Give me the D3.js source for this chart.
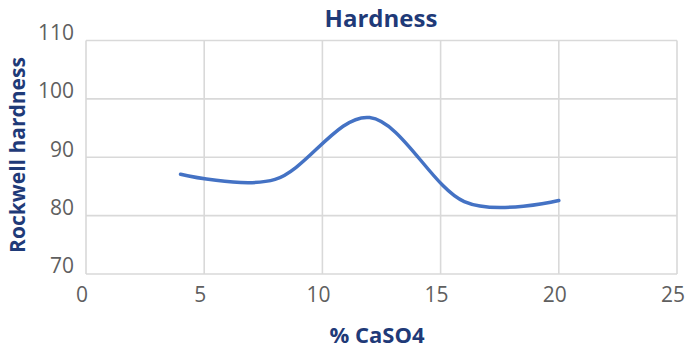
<!DOCTYPE html>
<html><head><meta charset="utf-8">
<script src="https://cdn.jsdelivr.net/npm/d3@7/dist/d3.min.js"></script>
<style>body{margin:0;background:#fff}svg{display:block}</style>
</head><body>
<svg id="c" width="686" height="350"></svg>
<script>
const xValues = [4, 8, 12, 16, 20];
const hardness = [87.1, 86.2, 96.8, 82.4, 82.6];
const xTicks = [0, 5, 10, 15, 20, 25];
const yTicks = [70, 80, 90, 100, 110];
const title = "Hardness";
const xTitle = "% CaSO4";
const yTitle = "Rockwell hardness";

const svg = d3.select("#c");
const x = d3.scaleLinear().domain([0, 25]).range([86, 677]);
const y = d3.scaleLinear().domain([70, 110]).range([274, 40.5]);
const grid = "#d9d9d9";
const navy = "#1f3a78";

// gridlines
svg.append("g").selectAll("line").data(yTicks).join("line")
  .attr("x1", x(0)).attr("x2", x(25))
  .attr("y1", d => y(d)).attr("y2", d => y(d))
  .attr("stroke", grid).attr("stroke-width", 1.6);
svg.append("g").selectAll("line").data(xTicks).join("line")
  .attr("y1", y(70)).attr("y2", y(110))
  .attr("x1", d => x(d)).attr("x2", d => x(d))
  .attr("stroke", grid).attr("stroke-width", 1.6);

// axes labels via d3 axes
const yAxis = svg.append("g").attr("transform", `translate(${x(0)},0)`)
  .call(d3.axisLeft(y).tickValues(yTicks).tickSize(0).tickPadding(12));
const xAxis = svg.append("g").attr("transform", `translate(0,${y(70)})`)
  .call(d3.axisBottom(x).tickValues(xTicks).tickSize(0).tickPadding(13));
[yAxis, xAxis].forEach(a => {
  a.select(".domain").remove();
  a.selectAll("text").attr("font-family", "'Open Sans', sans-serif")
    .attr("font-size", 21).attr("fill", "#5f5f5f");
});
yAxis.selectAll("text").attr("dy", "-0.05em");
xAxis.selectAll("text").attr("dx", -4.5);

// line
const line = d3.line().x((d, i) => x(xValues[i])).y(d => y(d))
  .curve(d3.curveCatmullRom.alpha(0));
svg.append("path").datum(hardness).attr("d", line)
  .attr("fill", "none").attr("stroke", "#4472c4").attr("stroke-width", 3.5)
  .attr("stroke-linecap", "round");

// titles
svg.append("text").attr("x", 381).attr("y", 27).attr("text-anchor", "middle")
  .attr("font-family", "'Open Sans', sans-serif").attr("font-weight", "bold")
  .attr("font-size", 24).attr("fill", navy).text(title);
svg.append("text").attr("x", 377).attr("y", 343).attr("text-anchor", "middle")
  .attr("font-family", "'Open Sans', sans-serif").attr("font-weight", "bold")
  .attr("font-size", 22).attr("fill", navy).text(xTitle);
svg.append("text").attr("transform", "translate(25,155) rotate(-90)").attr("text-anchor", "middle")
  .attr("font-family", "'Open Sans', sans-serif").attr("font-weight", "bold")
  .attr("font-size", 21).attr("fill", navy).text(yTitle);
</script>
</body></html>
